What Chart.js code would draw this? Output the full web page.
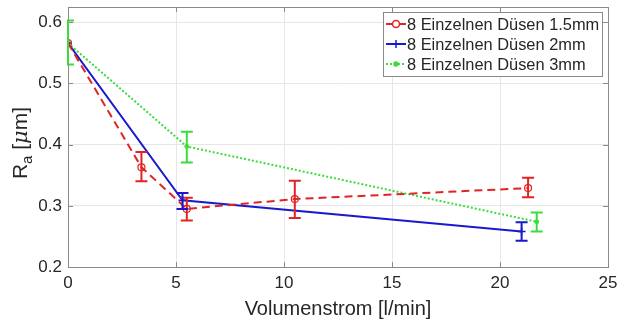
<!DOCTYPE html>
<html>
<head>
<meta charset="utf-8">
<script src="https://cdn.jsdelivr.net/npm/chart.js@4/dist/chart.umd.min.js"></script>
<style>
  html, body { margin: 0; padding: 0; background: #fff; }
  #wrap { width: 619px; height: 325px; }
</style>
</head>
<body>
<div id="wrap"><canvas id="c"></canvas></div>
<script>
// series 1.5mm
const x15 = [0, 3.4, 5.5, 10.5, 21.3];
const y15 = [0.566, 0.363, 0.295, 0.311, 0.329];
const lo15 = [0.566, 0.340, 0.276, 0.280, 0.314];
const hi15 = [0.566, 0.388, 0.313, 0.341, 0.346];

// series 2mm
const x2 = [0, 5.3, 21.0];
const y2 = [0.566, 0.309, 0.258];
const lo2 = [0.566, 0.295, 0.243];
const hi2 = [0.566, 0.321, 0.273];

// series 3mm
const x3 = [0, 5.5, 21.7];
const y3 = [0.566, 0.397, 0.274];
const lo3 = [0.531, 0.371, 0.258];
const hi3 = [0.603, 0.421, 0.289];

const xTicks = [0, 5, 10, 15, 20, 25];
const yTicks = [0.2, 0.3, 0.4, 0.5, 0.6];
const labels = ["8 Einzelnen Düsen 1.5mm", "8 Einzelnen Düsen 2mm", "8 Einzelnen Düsen 3mm"];

const RED = "#e02424", BLUE = "#1a1acc", GREEN = "#3ddc3d";
const FONT = "'Liberation Sans', Arial, sans-serif";

const pts = (xs, ys) => xs.map((x, i) => ({ x: x, y: ys[i] }));

// error bars, drawn through the scales
const errorBars = {
    id: "errorBars",
    afterDatasetsDraw(chart) {
        const ctx = chart.ctx;
        const a = chart.chartArea;
        const xs = chart.scales.x, ys = chart.scales.y;
        ctx.save();
        ctx.beginPath();
        ctx.rect(a.left - 1, a.top, a.right - a.left + 1, a.bottom - a.top);
        ctx.clip();
        chart.data.datasets.forEach(ds => {
            ctx.strokeStyle = ds.borderColor;
            ctx.lineWidth = 2;
            ds.data.forEach((p, i) => {
                if (ds.lo[i] === ds.hi[i]) return;
                const px = xs.getPixelForValue(p.x);
                const t = ys.getPixelForValue(ds.hi[i]);
                const b = ys.getPixelForValue(ds.lo[i]);
                ctx.beginPath();
                ctx.moveTo(px, t); ctx.lineTo(px, b);
                ctx.moveTo(px - 6, t); ctx.lineTo(px + 6, t);
                ctx.moveTo(px - 6, b); ctx.lineTo(px + 6, b);
                ctx.stroke();
            });
        });
        ctx.restore();
    }
};

// box, inner ticks, y title, legend
const decor = {
    id: "decor",
    afterDraw(chart) {
        const ctx = chart.ctx;
        const a = chart.chartArea;
        const xs = chart.scales.x, ys = chart.scales.y;
        ctx.save();
        ctx.strokeStyle = "#8a8a8a";
        ctx.lineWidth = 1;
        ctx.strokeRect(a.left + 0.5, a.top + 0.5, a.right - a.left, a.bottom - a.top);
        ctx.beginPath();
        yTicks.forEach(v => {
            const py = Math.round(ys.getPixelForValue(v)) + 0.5;
            ctx.moveTo(a.left, py); ctx.lineTo(a.left + 5, py);
            ctx.moveTo(a.right, py); ctx.lineTo(a.right - 5, py);
        });
        xTicks.forEach(v => {
            const px = Math.round(xs.getPixelForValue(v)) + 0.5;
            ctx.moveTo(px, a.bottom); ctx.lineTo(px, a.bottom - 5);
            ctx.moveTo(px, a.top); ctx.lineTo(px, a.top + 5);
        });
        ctx.stroke();

        // redraw the green bar on the left axis so it sits on top of the box
        const g = chart.data.datasets[2];
        const gx = xs.getPixelForValue(g.data[0].x);
        ctx.strokeStyle = g.borderColor;
        ctx.lineWidth = 2;
        ctx.beginPath();
        ctx.moveTo(gx, ys.getPixelForValue(g.hi[0]));
        ctx.lineTo(gx, ys.getPixelForValue(g.lo[0]));
        ctx.stroke();

        // y title: R_a [mu m]
        ctx.translate(27, 143);
        ctx.rotate(-Math.PI / 2);
        ctx.fillStyle = "#262626";
        ctx.textBaseline = "alphabetic";
        const parts = [
            { t: "R", f: "21px " + FONT, dy: 0 },
            { t: "a", f: "15px " + FONT, dy: 5 },
            { t: " [", f: "21px " + FONT, dy: 0 },
            { t: "μ", f: "italic 21px 'DejaVu Serif', serif", dy: 0 },
            { t: "m]", f: "21px " + FONT, dy: 0 }
        ];
        let w = 0;
        parts.forEach(p => { ctx.font = p.f; w += ctx.measureText(p.t).width; });
        let cx = -w / 2;
        parts.forEach(p => {
            ctx.font = p.f;
            ctx.fillText(p.t, cx, p.dy);
            cx += ctx.measureText(p.t).width;
        });
        ctx.restore();

        // legend
        ctx.save();
        const lx = 383, ly = 12, lw = 219, lh = 64;
        ctx.fillStyle = "#fff";
        ctx.fillRect(lx, ly, lw, lh);
        ctx.strokeStyle = "#8a8a8a";
        ctx.strokeRect(lx + 0.5, ly + 0.5, lw, lh);
        ctx.font = "16.4px " + FONT;
        ctx.textBaseline = "middle";
        chart.data.datasets.forEach((ds, i) => {
            const yy = ly + 12 + i * 20;
            ctx.strokeStyle = ds.borderColor;
            ctx.lineWidth = 2;
            ctx.setLineDash(ds.borderDash || []);
            ctx.beginPath();
            ctx.moveTo(lx + 3, yy); ctx.lineTo(lx + 23, yy);
            ctx.stroke();
            ctx.setLineDash([]);
            ctx.lineWidth = 1.5;
            ctx.beginPath();
            if (i === 0) {
                ctx.arc(lx + 13, yy, 3.5, 0, Math.PI * 2);
                ctx.fillStyle = "#fff"; ctx.fill();
            } else if (i === 1) {
                ctx.moveTo(lx + 13, yy - 4); ctx.lineTo(lx + 13, yy + 4);
            } else {
                ctx.arc(lx + 13, yy, 2, 0, Math.PI * 2);
                ctx.fillStyle = ds.borderColor; ctx.fill();
            }
            ctx.stroke();
            ctx.fillStyle = "#262626";
            ctx.fillText(labels[i], lx + 24, yy + 1);
        });
        ctx.restore();
    }
};

new Chart(document.getElementById("c"), {
    type: "scatter",
    data: {
        datasets: [
            {
                label: labels[0],
                data: pts(x15, y15),
                lo: lo15, hi: hi15,
                showLine: true,
                borderColor: RED,
                backgroundColor: "rgba(0,0,0,0)",
                borderWidth: 2,
                borderDash: [8, 5],
                pointStyle: "circle",
                pointRadius: 3.5,
                pointBorderWidth: 1.2
            },
            {
                label: labels[1],
                data: pts(x2, y2),
                lo: lo2, hi: hi2,
                showLine: true,
                borderColor: BLUE,
                backgroundColor: BLUE,
                borderWidth: 2,
                pointStyle: "cross",
                pointRadius: 4,
                pointBorderWidth: 1.5
            },
            {
                label: labels[2],
                data: pts(x3, y3),
                lo: lo3, hi: hi3,
                showLine: true,
                borderColor: GREEN,
                backgroundColor: GREEN,
                borderWidth: 2,
                borderDash: [2, 2],
                pointStyle: "circle",
                pointRadius: 2,
                pointBorderWidth: 1
            }
        ]
    },
    options: {
        responsive: true,
        maintainAspectRatio: false,
        animation: false,
        layout: { autoPadding: false, padding: { top: 7, right: 11, left: 0, bottom: 0 } },
        plugins: {
            legend: { display: false },
            tooltip: { enabled: false }
        },
        scales: {
            x: {
                type: "linear",
                min: 0,
                max: 25,
                afterBuildTicks: axis => { axis.ticks = xTicks.map(v => ({ value: v })); },
                afterFit: axis => {
                    axis.height = 58;
                    axis.paddingLeft = 0; axis.paddingRight = 0;
                },
                grid: { color: "#e6e6e6", drawTicks: false },
                border: { color: "#8a8a8a" },
                ticks: { color: "#262626", font: { family: FONT, size: 17 }, padding: 6 },
                title: {
                    display: true,
                    text: "Volumenstrom [l/min]",
                    color: "#262626",
                    font: { family: FONT, size: 20 },
                    padding: { top: 1 }
                }
            },
            y: {
                type: "linear",
                min: 0.2,
                max: 0.625,
                afterBuildTicks: axis => { axis.ticks = yTicks.map(v => ({ value: v })); },
                afterFit: axis => {
                    axis.width = 68;
                    axis.paddingTop = 0; axis.paddingBottom = 0;
                },
                grid: { color: "#e6e6e6", drawTicks: false },
                border: { color: "#8a8a8a" },
                ticks: {
                    color: "#262626",
                    font: { family: FONT, size: 17 },
                    padding: 6,
                    callback: v => v.toFixed(1)
                }
            }
        }
    },
    plugins: [errorBars, decor]
});
</script>
</body>
</html>
